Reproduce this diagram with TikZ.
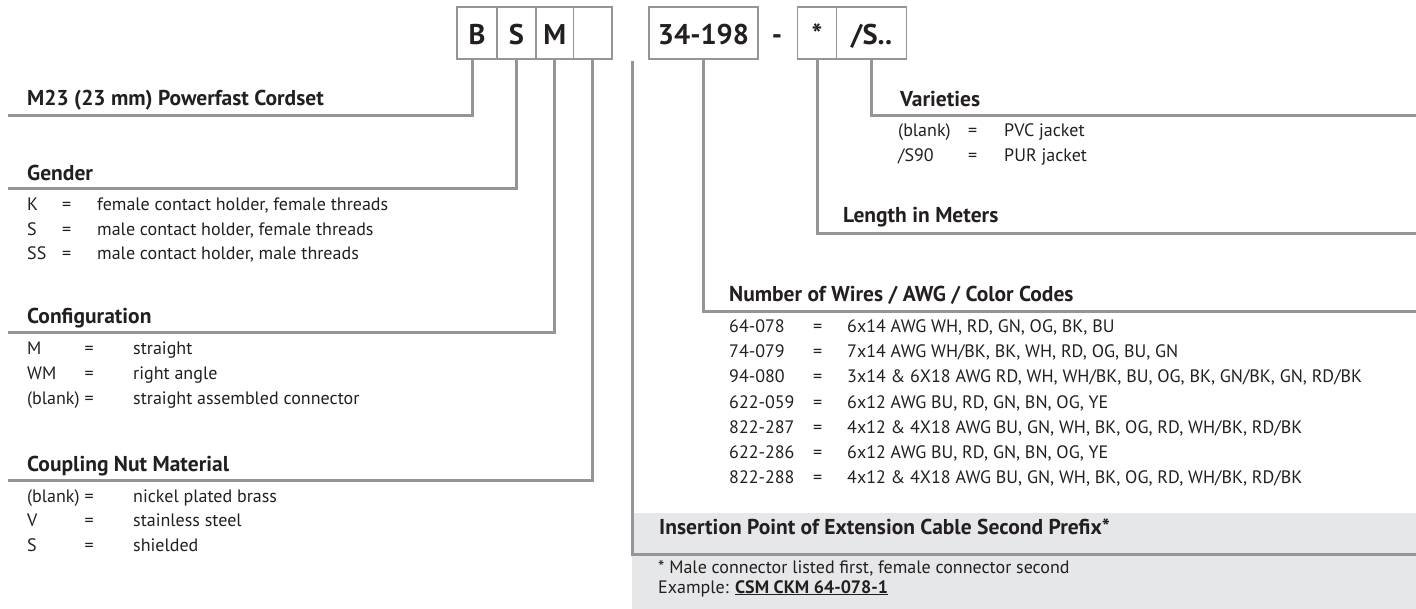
\documentclass[tikz,border=0pt]{standalone}
\usepackage{fontspec}
\setmainfont{PT Sans}
\usetikzlibrary{calc}
\definecolor{ln}{HTML}{939598}
\definecolor{tx}{HTML}{231F20}
\definecolor{gb}{HTML}{E6E7E8}
\tikzset{
 conn/.style={draw=ln, line width=3pt},
 codebox/.style={draw=ln, line width=1.6pt, minimum height=52pt, inner sep=0pt, text height=23.5pt, text depth=0pt, font=\fontsize{28.5}{32}\selectfont\bfseries, text=tx},
 hdr/.style={anchor=base west, inner sep=0pt, font=\fontsize{21.5}{24}\selectfont\bfseries, text=tx},
 txt/.style={anchor=base west, inner sep=0pt, font=\fontsize{18}{21}\selectfont, text=tx},
}
\begin{document}
\begin{tikzpicture}[x=1pt,y=-1pt]
\useasboundingbox (0,0) rectangle (1416,609);
% grey panel
\fill[gb] (632,513) rectangle (1416,609);
% code boxes
\node[codebox, minimum width=40pt] (bB) at (477,33) {B};
\node[codebox, minimum width=39pt] (bS) at (516.5,33) {S};
\node[codebox, minimum width=37.5pt] (bM) at (554.75,33) {M};
\node[codebox, minimum width=38.5pt] (bX) at (592.75,33) {};
\node[codebox, minimum width=109pt] (bN) at (703.5,33) {34-198};
\node[font=\fontsize{28.5}{32}\selectfont\bfseries, text=tx, inner sep=0pt, text height=23.5pt, text depth=0pt] (dash) at (777,33) {-};
\node[codebox, minimum width=39pt] (bL) at (817,33) {*};
\node[codebox, minimum width=70pt] (bV) at (871.5,33) {/S..};
% free ends
\coordinate (m23end) at (8,116);
\coordinate (genend) at (8,189);
\coordinate (cfgend) at (8,333);
\coordinate (cplend) at (8,480);
\coordinate (freetop) at (632.5,61);
\coordinate (insend) at (1416,554);
\coordinate (numend) at (1416,312);
\coordinate (lenend) at (1416,234);
\coordinate (varend) at (1416,116);
% connectors
\draw[conn] ($(bB.south)+(-5,0)$) |- (m23end);
\draw[conn] (bS.south) |- (genend);
\draw[conn] (bM.south) |- (cfgend);
\draw[conn] (bX.south) |- (cplend);
\draw[conn] (freetop) |- (insend);
\draw[conn] (bN.south) |- (numend);
\draw[conn] (bL.south) |- (lenend);
\draw[conn] (bV.south) |- (varend);
% left headers
\node[hdr] (hM23) at (27,106) {M23 (23 mm) Powerfast Cordset};
\node[hdr] (hGen) at (27,181) {Gender};
\node[hdr] (hCfg) at (27,324) {Configuration};
\node[hdr] (hCpl) at (27,471) {Coupling Nut Material};
% gender rows
\foreach \c/\d [count=\i] in {K/{female contact holder, female threads}, S/{male contact holder, female threads}, SS/{male contact holder, male threads}} {
  \pgfmathsetmacro\yy{211+24.5*(\i-1)}
  \node[txt] (gc\i) at (27,\yy) {\c};
  \node[txt] (ge\i) at (62,\yy) {=};
  \node[txt] (gd\i) at (97,\yy) {\d};
}
% configuration rows
\foreach \c/\d [count=\i] in {M/straight, WM/right angle, (blank)/straight assembled connector} {
  \pgfmathsetmacro\yy{355+24.5*(\i-1)}
  \node[txt] (cc\i) at (27,\yy) {\c};
  \node[txt] (ce\i) at (84.5,\yy) {=};
  \node[txt] (cd\i) at (133,\yy) {\d};
}
% coupling rows
\foreach \c/\d [count=\i] in {(blank)/nickel plated brass, V/stainless steel, S/shielded} {
  \pgfmathsetmacro\yy{502+24.5*(\i-1)}
  \node[txt] (nc\i) at (27,\yy) {\c};
  \node[txt] (ne\i) at (84.5,\yy) {=};
  \node[txt] (nd\i) at (133,\yy) {\d};
}
% right headers
\node[hdr] (hVar) at (900,107) {Varieties};
\node[hdr] (hLen) at (843,223) {Length in Meters};
\node[hdr] (hNum) at (729,302) {Number of Wires / AWG / Color Codes};
\node[hdr] (hIns) at (659,534) {Insertion Point of Extension Cable Second Prefix*};
% varieties rows
\foreach \c/\d [count=\i] in {(blank)/PVC jacket, {/S90}/PUR jacket} {
  \pgfmathsetmacro\yy{137+25*(\i-1)}
  \node[txt] (vc\i) at (898,\yy) {\c};
  \node[txt] (ve\i) at (968,\yy) {=};
  \node[txt] (vd\i) at (1004,\yy) {\d};
}
% wires rows
\foreach \c/\d [count=\i] in {
 64-078/{6x14 AWG WH, RD, GN, OG, BK, BU},
 74-079/{7x14 AWG WH/BK, BK, WH, RD, OG, BU, GN},
 94-080/{3x14 \& 6X18 AWG RD, WH, WH/BK, BU, OG, BK, GN/BK, GN, RD/BK},
 622-059/{6x12 AWG BU, RD, GN, BN, OG, YE},
 822-287/{4x12 \& 4X18 AWG BU, GN, WH, BK, OG, RD, WH/BK, RD/BK},
 622-286/{6x12 AWG BU, RD, GN, BN, OG, YE},
 822-288/{4x12 \& 4X18 AWG BU, GN, WH, BK, OG, RD, WH/BK, RD/BK}} {
  \pgfmathsetmacro\yy{333+25*(\i-1)}
  \node[txt] (wc\i) at (729,\yy) {\c};
  \node[txt] (we\i) at (813,\yy) {=};
  \node[txt] (wd\i) at (847,\yy) {\d};
}
% footnote
\node[txt] (fn1) at (658,573) {* Male connector listed first, female connector second};
\node[txt] (fn2) at (658,593) {Example: \underline{\textbf{CSM CKM 64-078-1}}};
\end{tikzpicture}
\end{document}
